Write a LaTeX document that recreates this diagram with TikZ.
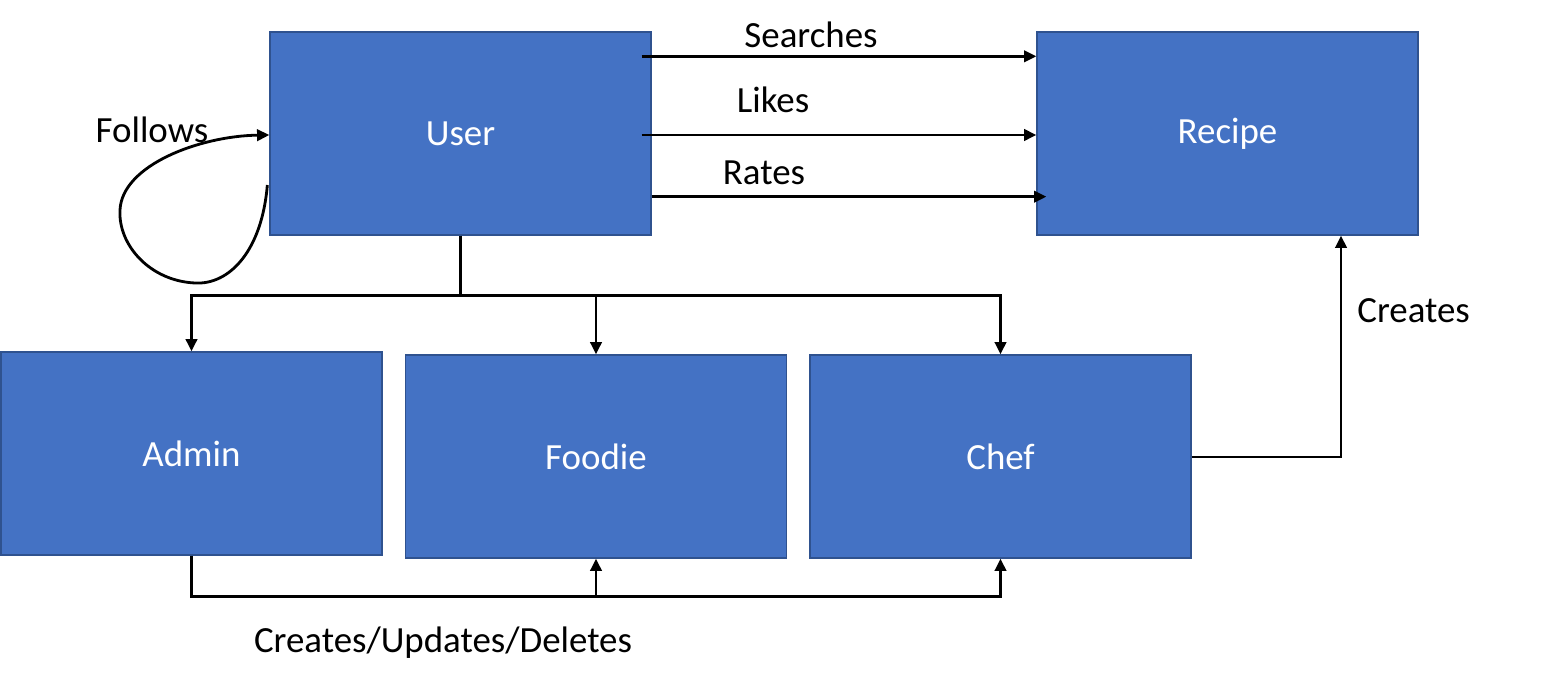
\documentclass[tikz,border=0pt]{standalone}
\usepackage{fontspec}
\setmainfont{Carlito}
\usetikzlibrary{calc,arrows.meta}
\definecolor{boxfill}{HTML}{4472C4}
\definecolor{boxline}{HTML}{2F528F}

\begin{document}
\begin{tikzpicture}[x=0.02cm, y=-0.02cm,
		entity/.style={draw=boxline, fill=boxfill, line width=0.8pt, inner sep=0pt,
			minimum width=7.62cm, minimum height=4.06cm, text=white,
			font=\fontsize{21}{25}\selectfont},
		lbl/.style={inner sep=0pt, font=\fontsize{21}{25}\selectfont},
		link/.style={line width=1.6pt},
		arr/.style={link, -{Triangle[length=7pt, width=6.5pt]}}]
			%%%%% START %%%%%
			
			\useasboundingbox (0, 0) rectangle (1557, 688);
			
			\node[entity] (User) at (460.5, 133.5) {\raisebox{-2pt}{User}};
			\node[entity] (Recipe) at (1227.5, 133.5) {\raisebox{-2pt}{Recipe}};
			\node[entity] (Admin) at (191.5, 453.5) {\raisebox{-2pt}{Admin}};
			\node[entity] (Foodie) at (596, 456.5) {\raisebox{-2pt}{Foodie}};
			\node[entity] (Chef) at (1000.5, 456.5) {\raisebox{-2pt}{Chef}};
			
			\node[lbl] (searches) at (811, 35) {Searches};
			\node[lbl] (likes) at (773, 100) {Likes};
			\node[lbl] (rates) at (764, 173) {Rates};
			\node[lbl] (follows) at (152, 130) {Follows};
			\node[lbl, anchor=west] (creates) at (1357, 311) {Creates};
			\node[lbl] (crud) at (443, 643) {Creates/Updates/Deletes};
			
			\draw[arr] ($(User.north east)+(-10, 25)$) -- ($(Recipe.north west)+(0, 25)$);
			\draw[arr] ($(User.east)+(-10, 1.5)$) -- ($(Recipe.west)+(0, 1.5)$);
			\draw[arr] ($(User.south east)+(0, -39)$) -- ($(Recipe.south west)+(10, -39)$);
			
			\draw[arr] ($(User.west)+(-2, 51.5)$) .. controls (262, 250) and (230, 285) .. (195, 283)
				.. controls (150, 281) and (118, 245) .. (120, 210)
				.. controls (122, 165) and (200, 136) .. ($(User.west)+(0, 1.5)$);
			
			\coordinate (split) at ($(User.south)+(0, 60)$);
			\draw[link] (User.south) -- (split);
			\draw[arr] (split) -| (Admin.north);
			\draw[arr] (split) -| (Foodie.north);
			\draw[arr] (split) -| (Chef.north);
			
			\draw[arr] ($(Chef.east)+(0, 0.5)$) -| ($(Recipe.south)+(113.5, 0)$);
			
			\coordinate (join) at ($(Foodie.south)+(0, 38)$);
			\draw[link] (Admin.south) |- (join);
			\draw[arr] (join) -- (Foodie.south);
			\draw[arr] (join) -| (Chef.south);
			
			%%%%% END %%%%%
\end{tikzpicture}
\end{document}
